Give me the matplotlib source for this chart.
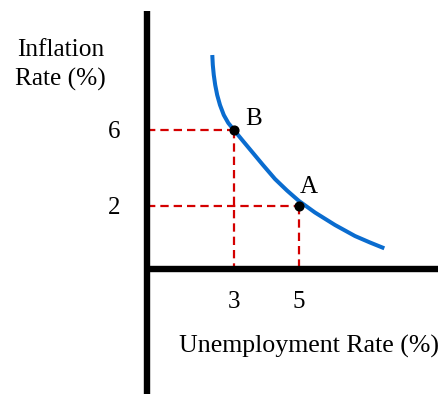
import matplotlib
matplotlib.use("Agg")
import matplotlib.pyplot as plt

plt.rcParams['font.family'] = ['Liberation Serif', 'DejaVu Serif']
plt.rcParams['lines.scale_dashes'] = False

# Phillips curve points (unemployment %, inflation %)
curve_x = [2.332, 2.348, 2.378, 2.422, 2.483, 2.569, 2.686, 2.825, 3.0, 3.277,
           3.585, 3.892, 4.262, 4.631, 5.0, 5.492, 6.108, 6.723, 7.185, 7.625]
curve_y = [9.963, 9.435, 8.906, 8.378, 7.850, 7.322, 6.793, 6.371, 6.0, 5.420,
           4.786, 4.152, 3.413, 2.805, 2.250, 1.643, 0.983, 0.401, 0.058, -0.248]

point_names = ["B", "A"]
point_x = [3, 5]
point_y = [6, 2]

x_ticks = [3, 5]
y_ticks = [6, 2]

# schematic axes position (data units)
axis_x0 = 0.314
axis_y0 = -1.357

fig = plt.figure(figsize=(4.38, 3.94), dpi=100)
ax = fig.add_axes([0, 0, 1, 1])
ax.set_xlim(-4.2, 9.277)
ax.set_ylim(-7.945, 12.87)
ax.axis('off')

red = '#d40000'
blue = '#0a6ccf'

# dashed guide lines
for px, py in zip(point_x, point_y):
    ax.plot([axis_x0, px], [py, py], color=red, lw=1.6, linestyle=(0, (6, 3.6)), zorder=2)
    ax.plot([px, px], [py, axis_y0], color=red, lw=1.6, linestyle=(0, (6, 3.6)), zorder=2)

# axes
ax.plot([axis_x0, axis_x0], [12.3, -7.945], color='black', lw=4.6, solid_capstyle='butt', zorder=3)
ax.plot([axis_x0, 9.277], [axis_y0, axis_y0], color='black', lw=4.6, solid_capstyle='butt', zorder=3)

# curve
ax.plot(curve_x, curve_y, color=blue, lw=2.9, solid_capstyle='butt',
        solid_joinstyle='round', zorder=4)

# points
ax.plot(point_x, point_y, 'o', color='black', markersize=6.3, zorder=5)
label_dx = [0.59, 0.3]
label_dy = [0.6, 1.0]
for name, px, py, dx, dy in zip(point_names, point_x, point_y, label_dx, label_dy):
    ax.text(px + dx, py + dy, name, fontsize=18, ha='center', va='center', zorder=6)

# tick labels
for t in x_ticks:
    ax.text(t, -3.1, str(t), fontsize=18, ha='center', va='center')
for t in y_ticks:
    ax.text(-0.68, t - 0.1, str(t), fontsize=18, ha='center', va='center')

# axis titles
ax.text(5.3, -5.45, "Unemployment Rate (%)", fontsize=18.6, ha='center', va='center')
ax.text(-2.33, 9.43, "Inflation\nRate (%)", fontsize=18.3, ha='center', va='center', linespacing=1.42)

fig.savefig("out.png", dpi=100)
